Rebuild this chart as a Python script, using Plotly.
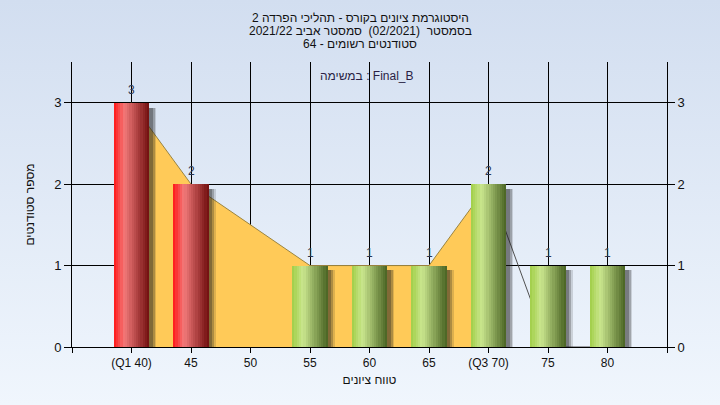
import base64
import plotly.graph_objects as go

# ---- data ----
categories = [40, 45, 50, 55, 60, 65, 70, 75, 80]
counts = [3, 2, 0, 1, 1, 1, 2, 1, 1]
bar_kind = ["low", "low", "low", "ok", "ok", "ok", "ok", "ok", "ok"]
area_x = [40, 45, 55, 60, 65, 70]
area_y = [3, 2, 1, 1, 1, 2]
tail_x = [70, 75, 80]
tail_y = [2, 0, 0]
tick_vals = [35, 40, 45, 50, 55, 60, 65, 70, 75, 80, 85]
tick_text = ["", "(Q1 40)", "45", "50", "55", "60", "65", "(Q3 70)", "75", "80", ""]

title_lines = [
    "היסטוגרמת ציונים בקורס - תהליכי הפרדה 2",
    "בסמסטר  (02/2021)  סמסטר אביב 2021/22",
    "סטודנטים רשומים - 64",
]
subtitle = "במשימה : Final_B"
x_title = "טווח ציונים"
y_title = "מספר סטודנטים"

FONT = "Liberation Sans, Arial, sans-serif"
BAR_W = 3.0
N_STRIPS = 16

grad = {
    "low": [(255, 22, 22), (242, 122, 122), (112, 14, 14)],
    "ok": [(160, 206, 70), (202, 230, 142), (72, 98, 34)],
}


def strip_color(kind, t):
    c0, c1, c2 = grad[kind]
    if t < 0.3:
        u = t / 0.3
        a, b = c0, c1
    else:
        u = (t - 0.3) / 0.7
        a, b = c1, c2
    r, g, bl = (round(a[i] + (b[i] - a[i]) * u) for i in range(3))
    return f"rgb({r},{g},{bl})"


fig = go.Figure()

# area behind bars (main subplot, drawn first)
fig.add_trace(go.Scatter(
    x=area_x, y=area_y, mode="lines", fill="tozeroy",
    fillcolor="#ffca58", line=dict(color="#9a8440", width=1),
    hoverinfo="skip", showlegend=False, yaxis="y",
))
fig.add_trace(go.Scatter(
    x=tail_x, y=tail_y, mode="lines",
    line=dict(color="#505050", width=1),
    hoverinfo="skip", showlegend=False, yaxis="y",
))

# bar shadows (overlay subplot, drawn above area)
for shift, alpha in [(0.6, 0.15), (0.45, 0.25), (0.3, 0.3)]:
    fig.add_trace(go.Bar(
        x=categories, y=counts, base=-0.06, width=BAR_W,
        offset=-BAR_W / 2 + shift, yaxis="y2",
        marker=dict(color=f"rgba(30,30,30,{alpha})", line=dict(width=0)),
        hoverinfo="skip", showlegend=False,
    ))

# cylindrical bars built from strips
sw = BAR_W / N_STRIPS
for k in range(N_STRIPS):
    t = (k + 0.5) / N_STRIPS
    fig.add_trace(go.Bar(
        x=categories, y=counts, width=sw * 1.05,
        offset=-BAR_W / 2 + k * sw, yaxis="y2",
        marker=dict(color=[strip_color(kd, t) for kd in bar_kind], line=dict(width=0)),
        hoverinfo="skip", showlegend=False,
    ))

svg = ('<svg xmlns="http://www.w3.org/2000/svg" width="720" height="405">'
       '<defs><linearGradient id="g" x1="0" y1="0" x2="0" y2="1">'
       '<stop offset="0" stop-color="#d2def0"/><stop offset="1" stop-color="#f0f6fd"/>'
       '</linearGradient></defs><rect width="720" height="405" fill="url(#g)"/></svg>')
src = "data:image/svg+xml;base64," + base64.b64encode(svg.encode()).decode()

L, R, T, B = 72, 53, 62, 58
pw, ph = 720 - L - R, 405 - T - B

annotations = []
# title lines
for i, line in enumerate(title_lines):
    annotations.append(dict(
        text=line, xref="paper", yref="paper",
        x=(360 - L) / pw, y=1 + (T - 18 - 13 * i) / ph,
        xanchor="center", yanchor="middle", showarrow=False,
        font=dict(family=FONT, size=12, color="#111111")))
annotations.append(dict(
    text=subtitle, xref="paper", yref="paper",
    x=(367 - L) / pw, y=1 - 5 / ph, xanchor="center", yanchor="top",
    showarrow=False, font=dict(family=FONT, size=12, color="#2a1f45")))
# value labels
for c, v in zip(categories, counts):
    if v > 0:
        annotations.append(dict(
            text=str(v), x=c, y=v, xref="x", yref="y2",
            xanchor="center", yanchor="bottom", yshift=4, showarrow=False,
            font=dict(family=FONT, size=12, color="#2a3550")))

axis_font = dict(family=FONT, size=13, color="#111111")
fig.update_layout(
    width=720, height=405,
    margin=dict(l=L, r=R, t=T, b=B, autoexpand=False),
    paper_bgcolor="#e2ecf8",
    plot_bgcolor="#b4b4b4",
    barmode="overlay",
    bargap=0,
    font=dict(family=FONT, size=12, color="#111111"),
    images=[dict(source=src, xref="paper", yref="paper",
                 x=-L / pw, y=1 + T / ph, sizex=720 / pw, sizey=405 / ph,
                 xanchor="left", yanchor="top", sizing="stretch", layer="below")],
    xaxis=dict(
        range=[35, 85], tickvals=tick_vals, ticktext=tick_text,
        showgrid=True, gridcolor="#000000", gridwidth=1,
        showline=True, linecolor="#000000", linewidth=1,
        ticks="outside", ticklen=5, tickcolor="#000000",
        tickfont=dict(family=FONT, size=12, color="#111111"),
        title=dict(text=x_title, font=dict(family=FONT, size=12, color="#111111"), standoff=6),
        zeroline=False, fixedrange=True, automargin=False,
    ),
    yaxis=dict(
        range=[0, 3.5], tickvals=[0, 1, 2, 3],
        showgrid=True, gridcolor="#000000", gridwidth=1,
        showline=True, linecolor="#000000", linewidth=1,
        ticks="outside", ticklen=7, tickcolor="#000000",
        tickfont=axis_font, zeroline=False, automargin=False,
        title=dict(text=y_title, font=dict(family=FONT, size=12, color="#111111"), standoff=16),
    ),
    yaxis2=dict(
        range=[0, 3.5], tickvals=[0, 1, 2, 3], overlaying="y", side="right",
        showgrid=False, showline=True, linecolor="#000000", linewidth=1,
        ticks="outside", ticklen=7, tickcolor="#000000",
        tickfont=axis_font, zeroline=False, automargin=False,
    ),
    annotations=annotations,
)

fig.write_html(
    "out.html",
    config={"displayModeBar": False},
    post_script="document.body.style.margin='0';document.body.style.background='#e2ecf8';",
)
